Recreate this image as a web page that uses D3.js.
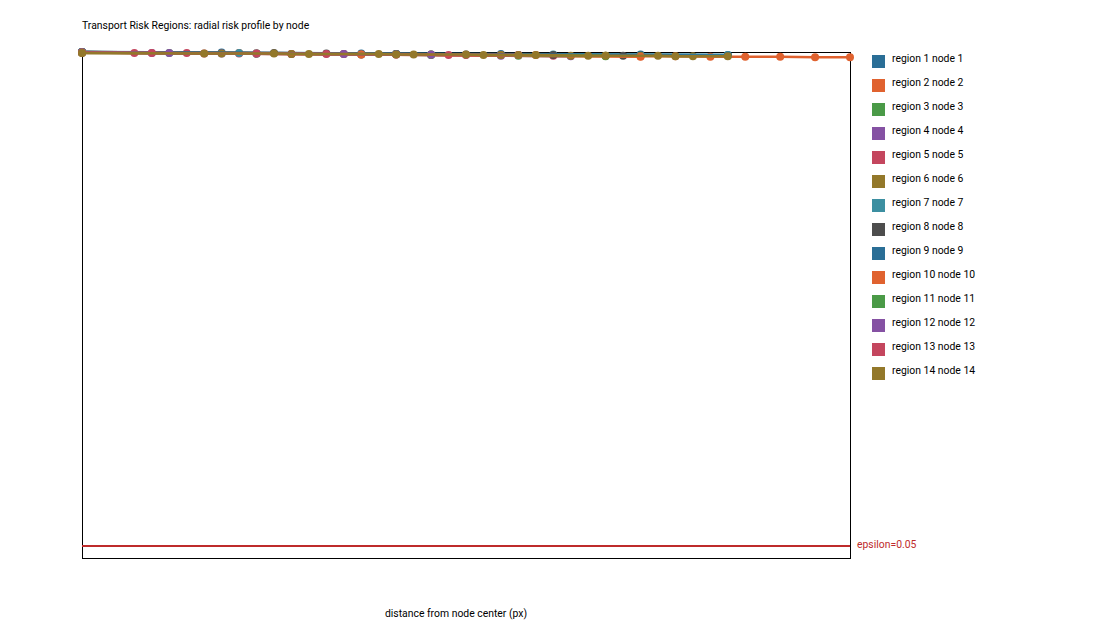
<!DOCTYPE html>
<html>
<head>
<meta charset="utf-8">
<script src="https://cdn.jsdelivr.net/npm/d3@7"></script>
<style>
  body { margin: 0; background: #fff; }
  svg { font-family: Roboto, "DejaVu Sans", sans-serif; }
</style>
</head>
<body>
<div id="chart"></div>
<script>
// series labels and colours
const LABELS = ["region 1 node 1", "region 2 node 2", "region 3 node 3", "region 4 node 4",
                "region 5 node 5", "region 6 node 6", "region 7 node 7", "region 8 node 8",
                "region 9 node 9", "region 10 node 10", "region 11 node 11", "region 12 node 12",
                "region 13 node 13", "region 14 node 14"];
const COLORS = ["#2a6e96", "#e0622f", "#4a9a47", "#8551a3", "#c4465e", "#93782a", "#3c8fa1",
                "#4d4d4d", "#2a6e96", "#e0622f", "#4a9a47", "#8551a3", "#c4465e", "#93782a"];

// distance from node centre (px) for each series
const DIST = [
  [0, 40, 80, 120, 160, 185],
  [0, 45, 90, 130, 150, 160, 170, 180, 190, 200, 210, 220],
  [0, 25, 50, 75, 100, 125, 150],
  [0, 20, 40, 60, 80, 100, 120, 140],
  [0, 15, 30, 45, 60, 75, 90, 105, 120, 135],
  [0, 40, 60, 80, 100, 120, 140, 160, 175],
  [0, 45, 90, 135, 185],
  [0, 55, 70, 90, 110, 135, 155],
  [0, 90, 185],
  [0, 80, 160],
  [0, 50, 100, 150],
  [0, 25, 50, 75, 100, 125],
  [0, 20, 35, 50, 70, 90, 110, 125],
  [0, 35, 55, 65, 85, 90, 95, 110, 115, 125, 130, 145, 150, 165, 170, 185]
];

// risk value at each distance
const RISK = [
  [1.000, 0.999, 0.997, 0.996, 0.995, 0.994],
  [1.000, 0.998, 0.996, 0.994, 0.993, 0.992, 0.992, 0.991, 0.991, 0.991, 0.990, 0.990],
  [1.000, 0.998, 0.997, 0.996, 0.994, 0.993, 0.992],
  [1.000, 0.998, 0.997, 0.996, 0.995, 0.994, 0.993, 0.992],
  [0.999, 0.998, 0.998, 0.997, 0.996, 0.996, 0.995, 0.994, 0.994, 0.993],
  [0.998, 0.997, 0.996, 0.995, 0.995, 0.994, 0.993, 0.993, 0.992],
  [1.000, 0.998, 0.996, 0.995, 0.994],
  [0.999, 0.998, 0.997, 0.996, 0.995, 0.994, 0.993],
  [1.000, 0.996, 0.993],
  [0.999, 0.995, 0.991],
  [0.999, 0.997, 0.995, 0.993],
  [0.999, 0.998, 0.997, 0.996, 0.995, 0.994],
  [0.999, 0.998, 0.997, 0.997, 0.996, 0.995, 0.994, 0.994],
  [0.998, 0.997, 0.997, 0.996, 0.996, 0.995, 0.995, 0.995, 0.994, 0.994, 0.994, 0.993,
   0.993, 0.993, 0.992, 0.992]
];

const EPSILON = 0.05;
const X_DOMAIN = [0, 220];
const Y_DOMAIN = [0.027, 1.0];

const WIDTH = 1100;
const HEIGHT = 640;
const LEFT = 82, RIGHT = 850, TOP = 52, BOTTOM = 558;
const FONT = 10.4;

const X_SCALE = d3.scaleLinear().domain(X_DOMAIN).range([LEFT, RIGHT]);
const Y_SCALE = d3.scaleLinear().domain(Y_DOMAIN).range([BOTTOM, TOP]);

let svg = d3.select('#chart')
            .append('svg')
            .attr('width', WIDTH)
            .attr('height', HEIGHT);

svg.append('text')
   .attr('x', 82)
   .attr('y', 29)
   .attr('font-size', FONT)
   .attr('fill', '#000')
   .text('Transport Risk Regions: radial risk profile by node');

// plot frame
svg.append('rect')
   .attr('x', LEFT + 0.5)
   .attr('y', TOP + 0.5)
   .attr('width', RIGHT - LEFT)
   .attr('height', BOTTOM - TOP)
   .attr('fill', 'none')
   .attr('stroke', '#000')
   .attr('stroke-width', 1);

// epsilon threshold
svg.append('line')
   .attr('x1', X_SCALE(X_DOMAIN[0]))
   .attr('x2', X_SCALE(X_DOMAIN[1]))
   .attr('y1', Y_SCALE(EPSILON))
   .attr('y2', Y_SCALE(EPSILON))
   .attr('stroke', '#be2b2b')
   .attr('stroke-width', 2);

svg.append('text')
   .attr('x', RIGHT + 7)
   .attr('y', Y_SCALE(EPSILON) + 2)
   .attr('font-size', FONT)
   .attr('fill', '#be2b2b')
   .text('epsilon=' + EPSILON);

const LINE = d3.line()
               .x((d) => X_SCALE(d[0]))
               .y((d) => Y_SCALE(d[1]));

let series = DIST.map((ds, i) => ds.map((d, j) => [d, RISK[i][j]]));

let groups = svg.selectAll('g.series')
                .data(series)
                .enter()
                .append('g')
                .attr('class', 'series');

groups.append('path')
      .attr('d', (d) => LINE(d))
      .attr('fill', 'none')
      .attr('stroke', (d, i) => COLORS[i])
      .attr('stroke-width', 2.5);

groups.each(function(s, i) {
    d3.select(this).selectAll('circle')
      .data(s)
      .enter()
      .append('circle')
      .attr('cx', (d) => X_SCALE(d[0]))
      .attr('cy', (d) => Y_SCALE(d[1]))
      .attr('r', 4)
      .attr('fill', COLORS[i]);
});

// x axis label
svg.append('text')
   .attr('x', 456)
   .attr('y', 617)
   .attr('font-size', FONT)
   .attr('text-anchor', 'middle')
   .attr('fill', '#000')
   .text('distance from node center (px)');

// legend
let legend = svg.selectAll('g.legend')
                .data(LABELS)
                .enter()
                .append('g')
                .attr('class', 'legend')
                .attr('transform', (d, i) => 'translate(872,' + (55 + i * 24) + ')');

legend.append('rect')
      .attr('width', 13)
      .attr('height', 13)
      .attr('fill', (d, i) => COLORS[i]);

legend.append('text')
      .attr('x', 20)
      .attr('y', 7)
      .attr('font-size', FONT)
      .attr('fill', '#000')
      .text((d) => d);
</script>
</body>
</html>
